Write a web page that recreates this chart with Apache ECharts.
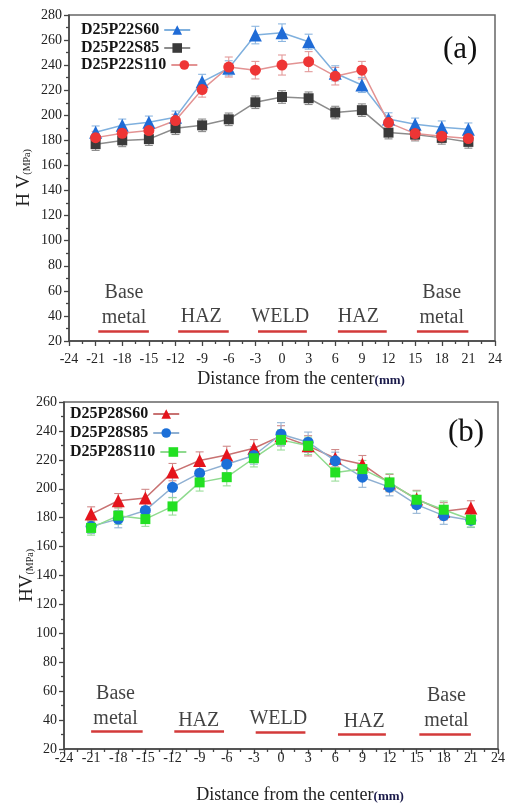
<!DOCTYPE html>
<html><head><meta charset="utf-8">
<script src="https://cdn.jsdelivr.net/npm/echarts@6/dist/echarts.min.js"></script>
<style>html,body{margin:0;padding:0;background:#fff}#c{width:505px;height:803px}</style>
</head><body><div id="c"></div>
<script>
// ---------- data ----------
const xPos = [-21,-18,-15,-12,-9,-6,-3,0,3,6,9,12,15,18,21];
const xTicks = [-24,-21,-18,-15,-12,-9,-6,-3,0,3,6,9,12,15,18,21,24];
const yTicks = [20,40,60,80,100,120,140,160,180,200,220,240,260,280];

// chart (a)
const namesA = ['D25P22S60','D25P22S85','D25P22S110'];
const a60  = [186.5,192,194.4,198.4,226.7,237.5,264,265.9,258.7,233.5,224.2,197,192.8,190.5,188.9];
const a85  = [177,180,181,189.7,192,196.8,210.4,214.6,213.6,202.2,204.1,186.2,184.6,182,178.8];
const a110 = [182.2,185.7,187.8,195.8,220.5,238.5,236,240.1,242.8,231.2,236,194.2,185.4,183.3,181.5];
const a60Err  = [5,5,5,5,6,6,7,7,6,6,6,5,5,5,5];
const a85Err  = [5,5,5,5,5,5,5,5,5,5,5,5,5,5,5];
const a110Err = [5,5,5,5,6,8,7,8,8,7,7,5,5,5,5];

// chart (b)
const namesB = ['D25P28S60','D25P28S85','D25P28S110'];
const b60  = [182.5,191.7,193.6,211.5,219.5,223.4,228,236.6,229.7,221.1,217,203.9,192.9,184.4,186.7];
const b85  = [174,179,185,201,210.8,217,223,237.7,232.2,219.3,208,201.1,189,181.4,178.2];
const b110 = [172.9,181.4,179,187.8,204.4,208,221.1,233.8,229.7,211.3,213.6,204.4,192.4,185.5,178.6];
const b60Err  = [5,5,6,6,6,6,6,7,7,6,6,6,6,6,5];
const b85Err  = [5,6,6,7,6,6,6,8,7,6,7,6,6,6,5];
const b110Err = [5,6,5,6,6,6,6,7,6,6,6,6,6,6,5];

// zone annotations
const zoneNames = ['Base\nmetal','HAZ','WELD','HAZ','Base\nmetal'];
const zoneX = [-17.8,-9.1,-0.2,8.6,18];
const zoneYA = [48.7,39.1,39.1,39.1,48.7];
const zoneStartA = [-20.7,-11.7,-2.7,6.3,15.2];
const zoneEndA   = [-15,-6,2.8,11.8,21];
const zoneLineYA = [28,28,28,28,28];
const zoneXB = [-18.3,-9.1,-0.3,9.2,18.3];
const zoneYB = [49.8,39.5,41,39,48];
const zoneStartB = [-21,-11.8,-2.8,6.3,15.3];
const zoneEndB   = [-15.3,-6.3,2.7,11.6,21];
const zoneLineYB = [32.5,32.5,31.5,30.5,30];

// ---------- build ----------
const serif = 'Liberation Serif, Times New Roman, serif';

function lineSeries(name, vals, gi, symbol, size, markerColor, lineColor) {
  return {
    type: 'line', name: name, xAxisIndex: gi, yAxisIndex: gi, z: 5,
    data: xPos.map((x, i) => [x, vals[i]]),
    symbol: symbol, symbolSize: size,
    itemStyle: { color: markerColor, borderWidth: 0 },
    lineStyle: { color: lineColor, width: 1.5 },
    emphasis: { disabled: true }
  };
}
function errSeries(vals, errs, gi, color) {
  return {
    type: 'custom', xAxisIndex: gi, yAxisIndex: gi, z: 3, silent: true,
    data: xPos.map((x, i) => [x, vals[i], errs[i]]),
    renderItem: function (params, api) {
      const x = api.value(0), y = api.value(1), e = api.value(2);
      const t = api.coord([x, y + e]);
      const b = api.coord([x, y - e]);
      const w = 4;
      const st = { stroke: color, lineWidth: 1.1 };
      return { type: 'group', children: [
        { type: 'line', shape: { x1: t[0], y1: t[1], x2: b[0], y2: b[1] }, style: st },
        { type: 'line', shape: { x1: t[0]-w, y1: t[1], x2: t[0]+w, y2: t[1] }, style: st },
        { type: 'line', shape: { x1: b[0]-w, y1: b[1], x2: b[0]+w, y2: b[1] }, style: st }
      ]};
    }
  };
}
function zoneSeries(gi, xs, ys, starts, ends, lys) {
  return {
    type: 'scatter', xAxisIndex: gi, yAxisIndex: gi, symbolSize: 0, silent: true, z: 2,
    data: zoneNames.map((n, i) => ({ name: n, value: [xs[i], ys[i]] })),
    label: { show: true, position: 'inside', formatter: '{b}', fontFamily: serif,
             fontSize: 20, color: '#111', lineHeight: 25 },
    markLine: {
      silent: true, symbol: 'none', label: { show: false },
      lineStyle: { color: '#d33a3a', width: 2.5, type: 'solid' },
      data: starts.map((s, i) => [{ coord: [s, lys[i]] }, { coord: [ends[i], lys[i]] }])
    }
  };
}
function xAxis(gi, labelMargin, nameGap) {
  return {
    type: 'value', gridIndex: gi, min: -24, max: 24, interval: 3,
    axisLine: { show: true, onZero: false, lineStyle: { color: '#444', width: 1.5 } },
    axisTick: { show: true, length: 5, lineStyle: { color: '#444', width: 1.3 } },
    minorTick: { show: true, splitNumber: 2, length: 3, lineStyle: { color: '#444', width: 1.3 } },
    splitLine: { show: false },
    axisLabel: { fontFamily: serif, fontSize: 14, color: '#222', margin: labelMargin,
                 formatter: v => xTicks.indexOf(v) >= 0 ? String(v) : '' },
    name: '{a|Distance from the center}{b|(mm)}', nameLocation: 'middle', nameGap: nameGap,
    nameMoveOverlap: false,
    nameTextStyle: { padding: [0, 0, 0, 38], rich: {
      a: { fontFamily: serif, fontSize: 18, color: '#222' },
      b: { fontFamily: serif, fontSize: 13, fontWeight: 'bold', color: '#1a1a4a', padding: [3, 0, 0, 0] }
    }}
  };
}
function yAxis(gi, max, nameStr, nameGap) {
  return {
    type: 'value', gridIndex: gi, min: 20, max: max, interval: 20,
    axisLine: { show: true, onZero: false, lineStyle: { color: '#444', width: 1.5 } },
    axisTick: { show: true, length: 5, lineStyle: { color: '#444', width: 1.3 } },
    minorTick: { show: true, splitNumber: 2, length: 3, lineStyle: { color: '#444', width: 1.3 } },
    splitLine: { show: false },
    axisLabel: { fontFamily: serif, fontSize: 14, color: '#222', margin: 7,
                 formatter: v => yTicks.indexOf(v) >= 0 ? String(v) : '' },
    name: nameStr, nameLocation: 'middle', nameRotate: 90, nameGap: nameGap,
    nameMoveOverlap: false,
    nameTextStyle: { rich: {
      a: { fontFamily: serif, fontSize: 19, color: '#222' },
      b: { fontFamily: serif, fontSize: 10, color: '#222', padding: [6, 0, 0, 0] }
    }}
  };
}
const legendText = { fontFamily: serif, fontWeight: 'bold', fontSize: 16, color: '#151515' };
function legendItem(name, left, top) {
  return { data: [name], left: left, top: top, orient: 'vertical', align: 'right', padding: 0,
           itemWidth: 26, itemHeight: 12, textStyle: legendText, selectedMode: false };
}

const option = {
  backgroundColor: '#fff',
  animation: false,
  title: [
    { text: '(a)', left: 438, top: 29, textStyle: { fontFamily: serif, fontSize: 31, fontWeight: 'normal', color: '#111' } },
    { text: '(b)', left: 443, top: 412, textStyle: { fontFamily: serif, fontSize: 31, fontWeight: 'normal', color: '#111' } }
  ],
  legend: [
    legendItem(namesA[0], 81, 22), legendItem(namesA[1], 81, 40), legendItem(namesA[2], 81, 57),
    legendItem(namesB[0], 70, 406), legendItem(namesB[1], 70, 425), legendItem(namesB[2], 70, 444)
  ],
  grid: [
    { left: 69, top: 15, width: 426, height: 326, show: true, borderColor: '#666', borderWidth: 1.5,
      backgroundColor: 'transparent', outerBoundsMode: 'none', containLabel: false },
    { left: 64, top: 402, width: 434, height: 347, show: true, borderColor: '#666', borderWidth: 1.5,
      backgroundColor: 'transparent', outerBoundsMode: 'none', containLabel: false }
  ],
  xAxis: [ xAxis(0, 11, 29), xAxis(1, 2, 37) ],
  yAxis: [ yAxis(0, 280, '{a|H V}{b|(MPa)}', 35), yAxis(1, 260, '{a|HV}{b|(MPa)}', 27) ],
  series: [
    errSeries(a60, a60Err, 0, '#8cb6e0'),
    errSeries(a85, a85Err, 0, '#8a8a8a'),
    errSeries(a110, a110Err, 0, '#e39a9a'),
    lineSeries(namesA[0], a60, 0, 'triangle', 13, '#1f6bd6', '#7fb0de'),
    lineSeries(namesA[1], a85, 0, 'rect', 10, '#3a3a3a', '#8c8c8c'),
    lineSeries(namesA[2], a110, 0, 'circle', 11, '#ee3535', '#e39393'),
    zoneSeries(0, zoneX, zoneYA, zoneStartA, zoneEndA, zoneLineYA),
    errSeries(b60, b60Err, 1, '#d08a8a'),
    errSeries(b85, b85Err, 1, '#94b4d4'),
    errSeries(b110, b110Err, 1, '#99dd99'),
    lineSeries(namesB[0], b60, 1, 'triangle', 13, '#e5141c', '#c87272'),
    lineSeries(namesB[1], b85, 1, 'circle', 11, '#1b6fd8', '#8fb0d2'),
    lineSeries(namesB[2], b110, 1, 'rect', 10, '#22e022', '#8fda8f'),
    zoneSeries(1, zoneXB, zoneYB, zoneStartB, zoneEndB, zoneLineYB)
  ]
};
const chart = echarts.init(document.getElementById('c'), null, { renderer: 'canvas' });
chart.setOption(option);
</script>
</body></html>
